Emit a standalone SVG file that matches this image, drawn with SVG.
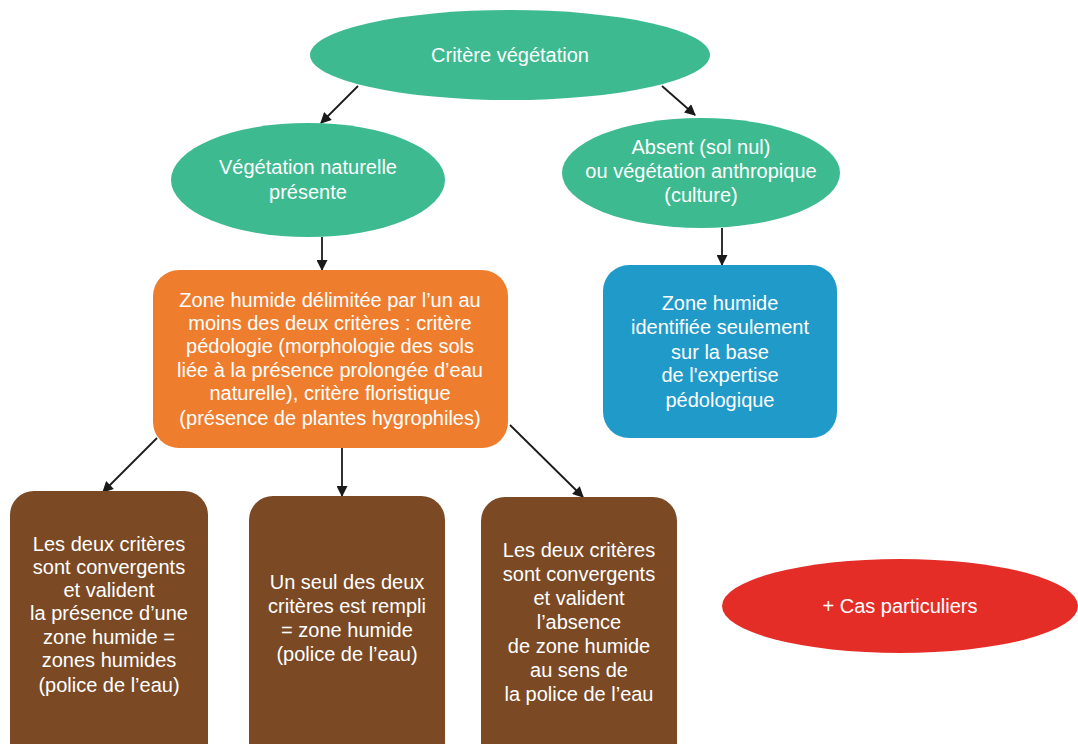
<svg xmlns="http://www.w3.org/2000/svg" width="1078" height="744" viewBox="0 0 1078 744">
<defs>
<marker id="ah" viewBox="0 0 10 10" refX="9" refY="5" markerWidth="12" markerHeight="11" markerUnits="userSpaceOnUse" orient="auto"><path d="M0,0 L10,5 L0,10 z" fill="#1a1a1a"/></marker>
<style>
.t{font-family:"Liberation Sans",Arial,sans-serif;font-size:20px;fill:#ffffff;text-anchor:middle}
.c{stroke:#1a1a1a;stroke-width:1.8;fill:none;marker-end:url(#ah)}
.g{fill:#3dba8f}
.o{fill:#ef7d2e}
.b{fill:#1f9ac9}
.br{fill:#7b4a25}
.r{fill:#e52d27}
</style>
</defs>
<rect width="1078" height="744" fill="#ffffff"/>
<g id="connectors">
<line class="c" x1="358" y1="86" x2="321" y2="123"/>
<line class="c" x1="662" y1="86" x2="695" y2="115"/>
<line class="c" x1="322" y1="237" x2="322" y2="270"/>
<line class="c" x1="722" y1="228" x2="722" y2="265"/>
<line class="c" x1="157" y1="438" x2="103" y2="492"/>
<line class="c" x1="342" y1="448" x2="342" y2="496"/>
<line class="c" x1="510" y1="425" x2="583" y2="497"/>
</g>
<g id="n-critere">
<ellipse class="g" cx="510" cy="55" rx="200" ry="45"/>
<text class="t" x="510" y="62">Critère végétation</text>
</g>
<g id="n-naturelle">
<ellipse class="g" cx="308" cy="180" rx="137" ry="57"/>
<text class="t" x="308" y="174">Végétation naturelle</text>
<text class="t" x="308" y="199">présente</text>
</g>
<g id="n-absent">
<ellipse class="g" cx="701" cy="173" rx="139" ry="55"/>
<text class="t" x="701" y="154">Absent (sol nul)</text>
<text class="t" x="701" y="178">ou végétation anthropique</text>
<text class="t" x="701" y="202">(culture)</text>
</g>
<g id="n-orange">
<rect class="o" x="153" y="270" width="355" height="178" rx="26"/>
<text class="t" x="330" y="307">Zone humide délimitée par l’un au</text>
<text class="t" x="330" y="330">moins des deux critères : critère</text>
<text class="t" x="330" y="353">pédologie (morphologie des sols</text>
<text class="t" x="330" y="377">liée à la présence prolongée d’eau</text>
<text class="t" x="330" y="400">naturelle), critère floristique</text>
<text class="t" x="330" y="425">(présence de plantes hygrophiles)</text>
</g>
<g id="n-blue">
<rect class="b" x="603" y="265" width="234" height="173" rx="26"/>
<text class="t" x="720" y="310">Zone humide</text>
<text class="t" x="720" y="334">identifiée seulement</text>
<text class="t" x="720" y="359">sur la base</text>
<text class="t" x="720" y="382">de l'expertise</text>
<text class="t" x="720" y="407">pédologique</text>
</g>
<g id="n-brown1">
<rect class="br" x="10" y="491" width="198" height="275" rx="24"/>
<text class="t" x="109" y="551">Les deux critères</text>
<text class="t" x="109" y="574">sont convergents</text>
<text class="t" x="109" y="597">et valident</text>
<text class="t" x="109" y="620">la présence d’une</text>
<text class="t" x="109" y="644">zone humide =</text>
<text class="t" x="109" y="667">zones humides</text>
<text class="t" x="109" y="692">(police de l’eau)</text>
</g>
<g id="n-brown2">
<rect class="br" x="249" y="496" width="196" height="270" rx="24"/>
<text class="t" x="347" y="589">Un seul des deux</text>
<text class="t" x="347" y="613">critères est rempli</text>
<text class="t" x="347" y="637">= zone humide</text>
<text class="t" x="347" y="661">(police de l’eau)</text>
</g>
<g id="n-brown3">
<rect class="br" x="481" y="497" width="196" height="270" rx="24"/>
<text class="t" x="579" y="557">Les deux critères</text>
<text class="t" x="579" y="581">sont convergents</text>
<text class="t" x="579" y="605">et valident</text>
<text class="t" x="579" y="629">l’absence</text>
<text class="t" x="579" y="653">de zone humide</text>
<text class="t" x="579" y="677">au sens de</text>
<text class="t" x="579" y="701">la police de l’eau</text>
</g>
<g id="n-cas">
<ellipse class="r" cx="900" cy="606" rx="178" ry="47"/>
<text class="t" x="900" y="613">+ Cas particuliers</text>
</g>
</svg>
